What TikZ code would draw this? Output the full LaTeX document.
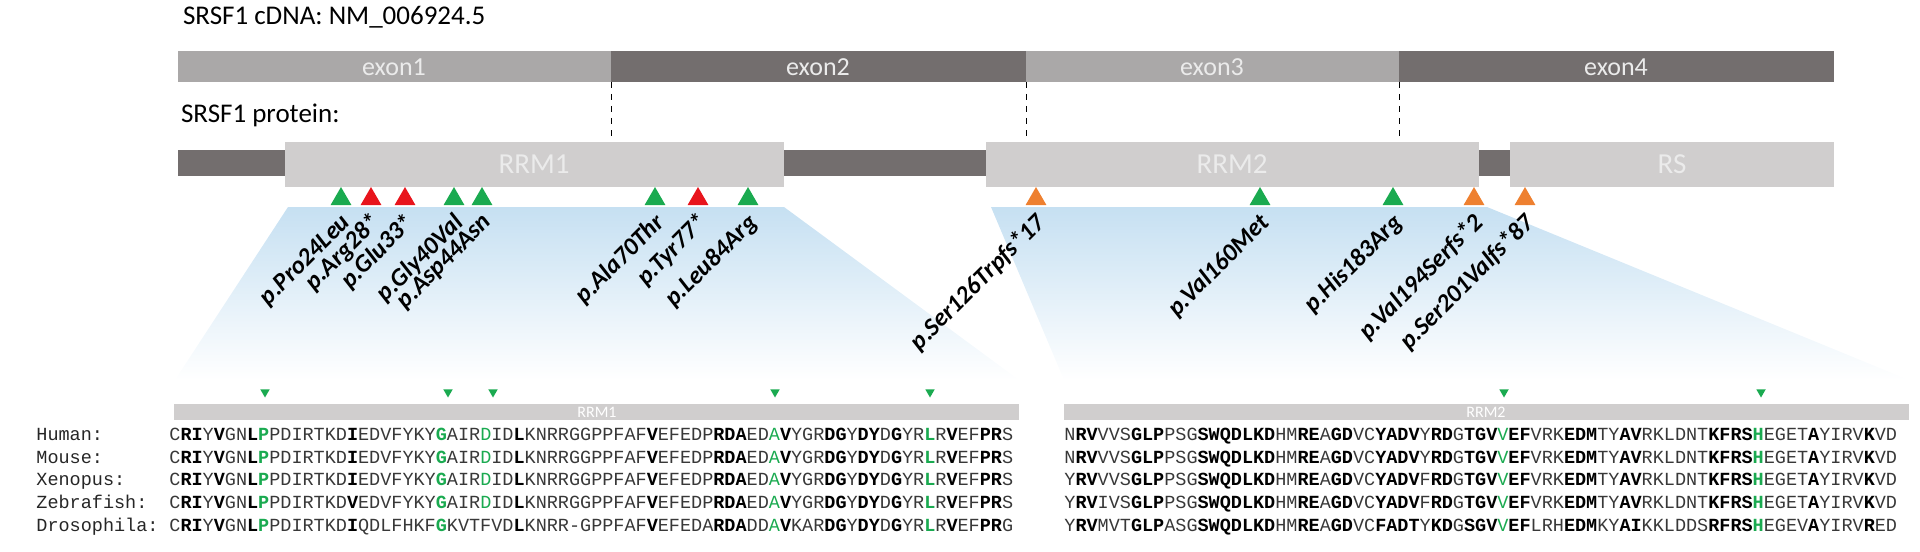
\documentclass[tikz,border=0pt]{standalone}
\usepackage{fontspec}
\setmainfont{Carlito}
\newfontfamily\seqfont{Liberation Mono}
\usetikzlibrary{shapes, positioning}
\definecolor{exlight}{HTML}{AAA8A8}
\definecolor{exdark}{HTML}{736E6E}
\definecolor{dombox}{HTML}{D0CECE}
\definecolor{mgreen}{HTML}{1AAA50}
\definecolor{mred}{HTML}{E8141C}
\definecolor{morange}{HTML}{EE8030}
\definecolor{fanblue}{HTML}{C6E0F2}
\newcommand{\bo}[1]{\textbf{\color{black}#1}}
\newcommand{\gb}[1]{\textbf{\color{mgreen}#1}}
\newcommand{\gn}[1]{{\color{mgreen}#1}}
\tikzstyle{bartext}=[text=white!92!black, font=\fontsize{13}{13}\selectfont]
\tikzstyle{tri}=[regular polygon, regular polygon sides=3, inner sep=0pt, minimum size=12pt]
\tikzstyle{smalltri}=[regular polygon, regular polygon sides=3, shape border rotate=180, inner sep=0pt, minimum size=5.5pt, fill=mgreen]
\tikzstyle{mutlabel}=[rotate=45, anchor=east, inner sep=0pt, font=\fontsize{12.5}{12.5}\selectfont\bfseries\itshape]
\tikzstyle{seq}=[anchor=base west, inner sep=0pt, text=black!78, font=\seqfont\fontsize{9.25}{11}\selectfont]

\begin{document}
\begin{tikzpicture}[x=0.5pt, y=-0.5pt]
\useasboundingbox (0,0) rectangle (1920,551);
% fans
\shade[top color=fanblue, bottom color=white] (288,207) -- (784,207) -- (1019,380) -- (175,380) -- cycle;
\shade[top color=fanblue, bottom color=white] (991,207) -- (1487,207) -- (1909,380) -- (1064,380) -- cycle;
% titles
\node [anchor=west, font=\fontsize{13.5}{13.5}\selectfont] (cdna) at (176,17) {SRSF1 cDNA: NM\_006924.5};
\node [anchor=west, font=\fontsize{13.5}{13.5}\selectfont] (prot) at (174,115) {SRSF1 protein:};
% exons
\fill [exlight] (178,51) rectangle (611,82); \fill [exdark] (611,51) rectangle (1026,82);
\fill [exlight] (1026,51) rectangle (1399,82); \fill [exdark] (1399,51) rectangle (1834,82);
\node [bartext] (e1) at (394,67) {exon1}; \node [bartext] (e2) at (818,67) {exon2};
\node [bartext] (e3) at (1212,67) {exon3}; \node [bartext] (e4) at (1616,67) {exon4};
\draw [dashed, thin] (611,82) -- (611,142) (1026,82) -- (1026,142) (1399,82) -- (1399,142);
% protein
\fill [exdark] (178,150) rectangle (1834,176);
\fill [dombox] (285,142) rectangle (784,187); \fill [dombox] (986,142) rectangle (1479,187); \fill [dombox] (1510,142) rectangle (1834,187);
\node [bartext, font=\fontsize{14.5}{14.5}\selectfont] (rrm1) at (534,164) {RRM1};
\node [bartext, font=\fontsize{14.5}{14.5}\selectfont] (rrm2) at (1232,164) {RRM2};
\node [bartext, font=\fontsize{14.5}{14.5}\selectfont] (rs) at (1672,164) {RS};
% mutations
\foreach \x/\t/\c in {341/p.Pro24Leu/mgreen, 371/p.Arg28*/mred, 405/p.Glu33*/mred, 454/p.Gly40Val/mgreen, 482/p.Asp44Asn/mgreen, 655/p.Ala70Thr/mgreen, 698/p.Tyr77*/mred, 748/p.Leu84Arg/mgreen, 1036/p.Ser126Trpfs*17/morange, 1260/p.Val160Met/mgreen, 1393/p.His183Arg/mgreen, 1474/p.Val194Serfs*2/morange, 1525/p.Ser201Valfs*87/morange}{
  \node [tri, fill=\c] (m\x) at (\x,199) {};
  \node [mutlabel] (l\x) at (\x+6,219) {\t};
}
% alignment bars
\fill [dombox] (174,404) rectangle (1019,420); \fill [dombox] (1064,404) rectangle (1909,420);
\node [text=white, font=\fontsize{8}{8}\selectfont] (a1) at (597,412) {RRM1};
\node [text=white, font=\fontsize{8}{8}\selectfont] (a2) at (1486,412) {RRM2};
\foreach \x in {265, 448, 493, 775, 930, 1504, 1761}
  \node [smalltri] (s\x) at (\x,392) {};
% species
\foreach \n/\y in {Human/440, Mouse/463, Xenopus/485, Zebrafish/508, Drosophila/531}
  \node [seq, text=black!85] (n\n) at (36,\y) {\n:};
\node [seq] (h1) at (169,440) {C\bo{RI}Y\bo{V}GN\bo{L}\gb{P}PDIRTKD\bo{I}EDVFYKY\gb{G}AIR\gn{D}ID\bo{L}KNRRGGPPFAF\bo{V}EFEDP\bo{RDA}ED\gn{A}\bo{V}YGR\bo{DG}Y\bo{DY}D\bo{G}YR\gb{L}R\bo{V}EF\bo{PR}S};
\node [seq] (m1) at (169,463) {C\bo{RI}Y\bo{V}GN\bo{L}\gb{P}PDIRTKD\bo{I}EDVFYKY\gb{G}AIR\gn{D}ID\bo{L}KNRRGGPPFAF\bo{V}EFEDP\bo{RDA}ED\gn{A}\bo{V}YGR\bo{DG}Y\bo{DY}D\bo{G}YR\gb{L}R\bo{V}EF\bo{PR}S};
\node [seq] (x1) at (169,485) {C\bo{RI}Y\bo{V}GN\bo{L}\gb{P}PDIRTKD\bo{I}EDVFYKY\gb{G}AIR\gn{D}ID\bo{L}KNRRGGPPFAF\bo{V}EFEDP\bo{RDA}ED\gn{A}\bo{V}YGR\bo{DG}Y\bo{DY}D\bo{G}YR\gb{L}R\bo{V}EF\bo{PR}S};
\node [seq] (z1) at (169,508) {C\bo{RI}Y\bo{V}GN\bo{L}\gb{P}PDIRTKD\bo{V}EDVFYKY\gb{G}AIR\gn{D}ID\bo{L}KNRRGGPPFAF\bo{V}EFEDP\bo{RDA}ED\gn{A}\bo{V}YGR\bo{DG}Y\bo{DY}D\bo{G}YR\gb{L}R\bo{V}EF\bo{PR}S};
\node [seq] (d1) at (169,531) {C\bo{RI}Y\bo{V}GN\bo{L}\gb{P}PDIRTKD\bo{I}QDLFHKF\gb{G}KVTFVD\bo{L}KNRR-GPPFAF\bo{V}EFEDA\bo{RDA}DD\gn{A}\bo{V}KAR\bo{DG}Y\bo{DY}D\bo{G}YR\gb{L}R\bo{V}EF\bo{PR}G};
\node [seq] (h2) at (1064,440) {N\bo{RV}VVS\bo{GLP}PSG\bo{SWQDLKD}HM\bo{RE}A\bo{GD}VC\bo{YADV}Y\bo{RD}G\bo{TGV}\gn{V}\bo{EF}VRK\bo{EDM}TY\bo{AV}RKLDNT\bo{KFRS}\gb{H}EGET\bo{A}YIRV\bo{K}VD};
\node [seq] (m2) at (1064,463) {N\bo{RV}VVS\bo{GLP}PSG\bo{SWQDLKD}HM\bo{RE}A\bo{GD}VC\bo{YADV}Y\bo{RD}G\bo{TGV}\gn{V}\bo{EF}VRK\bo{EDM}TY\bo{AV}RKLDNT\bo{KFRS}\gb{H}EGET\bo{A}YIRV\bo{K}VD};
\node [seq] (x2) at (1064,485) {Y\bo{RV}VVS\bo{GLP}PSG\bo{SWQDLKD}HM\bo{RE}A\bo{GD}VC\bo{YADV}F\bo{RD}G\bo{TGV}\gn{V}\bo{EF}VRK\bo{EDM}TY\bo{AV}RKLDNT\bo{KFRS}\gb{H}EGET\bo{A}YIRV\bo{K}VD};
\node [seq] (z2) at (1064,508) {Y\bo{RV}IVS\bo{GLP}PSG\bo{SWQDLKD}HM\bo{RE}A\bo{GD}VC\bo{YADV}F\bo{RD}G\bo{TGV}\gn{V}\bo{EF}VRK\bo{EDM}TY\bo{AV}RKLDNT\bo{KFRS}\gb{H}EGET\bo{A}YIRV\bo{K}VD};
\node [seq] (d2) at (1064,531) {Y\bo{RV}MVT\bo{GLP}ASG\bo{SWQDLKD}HM\bo{RE}A\bo{GD}VC\bo{FADT}Y\bo{KD}G\bo{SGV}\gn{V}\bo{EF}LRH\bo{EDM}KY\bo{AI}KKLDDS\bo{RFRS}\gb{H}EGEV\bo{A}YIRV\bo{R}ED};
\end{tikzpicture}
\end{document}
